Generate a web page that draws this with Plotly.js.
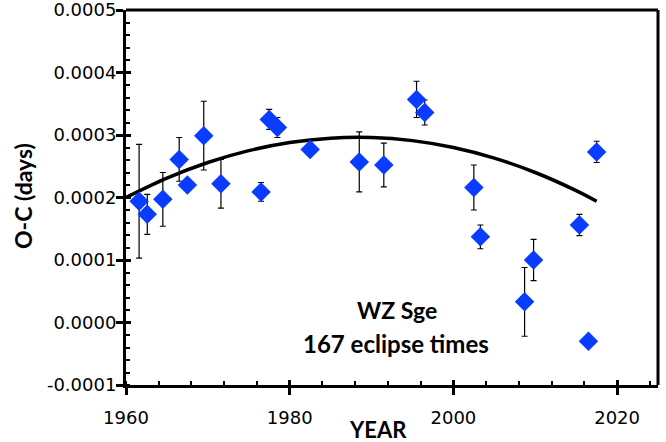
<!DOCTYPE html>
<html>
<head>
<meta charset="utf-8">
<script src="https://cdn.plot.ly/plotly-3.0.1.min.js"></script>
<style>html,body{margin:0;padding:0;background:#fff}#chart{width:666px;height:442px}</style>
</head>
<body>
<div id="chart"></div>
<script>
// Observed O-C data
var years = [1961.6, 1962.6, 1964.5, 1966.5, 1967.5, 1969.5, 1971.6, 1976.5, 1977.5, 1978.5, 1982.5, 1988.5, 1991.5, 1995.5, 1996.5, 2002.5, 2003.3, 2008.7, 2009.8, 2015.4, 2016.5, 2017.5];
var oc = [0.000194, 0.000173, 0.000197, 0.000261, 0.000220, 0.000299, 0.000222, 0.000209, 0.000325, 0.000312, 0.000277, 0.000257, 0.000252, 0.000357, 0.000336, 0.000216, 0.000137, 0.000033, 0.000100, 0.000156, -0.000030, 0.000273];
var ocErr = [0.000091, 0.000032, 0.000043, 0.000035, 0.000000, 0.000055, 0.000039, 0.000015, 0.000016, 0.000016, 0.000000, 0.000048, 0.000035, 0.000029, 0.000020, 0.000036, 0.000019, 0.000055, 0.000033, 0.000017, 0.000002, 0.000017];
// Fitted curve
var fitYears = [1960, 1965, 1970, 1975, 1980, 1985, 1990, 1995, 2000, 2005, 2010, 2015, 2017.5];
var fitOC = [0.000200, 0.000231, 0.000256, 0.000275, 0.000288, 0.000295, 0.000296, 0.000291, 0.000280, 0.000263, 0.000240, 0.000211, 0.000194];
// Tick labels
var yTickVals = [-0.0001, 0, 0.0001, 0.0002, 0.0003, 0.0004, 0.0005];
var yTickText = ["-0.0001", "0.0000", "0.0001", "0.0002", "0.0003", "0.0004", "0.0005"];
var xTickVals = [1960, 1980, 2000, 2020];
var xTickText = ["1960", "1980", "2000", "2020"];

var FONT = "Lato, 'Open Sans', sans-serif";
var TFONT = "'DejaVu Sans', sans-serif";
var YR = [-0.0001000001, 0.0005000001];
var traces = [
  {x: fitYears, y: fitOC, type: 'scatter', mode: 'lines',
   line: {color: '#000', width: 3.5, shape: 'spline'}, hoverinfo: 'skip'},
  {x: years, y: oc, type: 'scatter', mode: 'markers',
   marker: {symbol: 'diamond', size: 15, color: '#0a3cff'},
   error_y: {type: 'data', array: ocErr, visible: true, color: '#000', thickness: 1.2, width: 3}},
  {x: [null], y: [null], xaxis: 'x2', yaxis: 'y2', type: 'scatter', mode: 'markers', showlegend: false}
];
var layout = {
  width: 666, height: 442,
  margin: {l: 126, r: 8, t: 10, b: 57},
  paper_bgcolor: '#fff', plot_bgcolor: '#fff',
  showlegend: false,
  font: {family: FONT, color: '#000', size: 18},
  xaxis: {range: [1960, 2025], tickvals: xTickVals, ticktext: xTickText,
    ticks: 'outside', ticklen: 7, tickwidth: 3, tickcolor: '#000',
    showline: true, linewidth: 3, linecolor: '#000', mirror: false,
    showgrid: false, zeroline: false, ticklabelstandoff: 7, ticklabeloverflow: 'allow',
    tickfont: {family: TFONT, size: 18},
    minor: {tick0: 1960, dtick: 4, ticks: 'inside', ticklen: 4, tickwidth: 2, tickcolor: '#000', showgrid: false}},
  yaxis: {range: YR, tickvals: yTickVals, ticktext: yTickText,
    ticks: 'outside', ticklen: 7, tickwidth: 3, tickcolor: '#000',
    showline: true, linewidth: 3, linecolor: '#000', mirror: false,
    showgrid: false, zeroline: false, ticklabelstandoff: -4, ticklabeloverflow: 'allow',
    tickfont: {family: TFONT, size: 18},
    minor: {tick0: 0, dtick: 0.00002, ticks: 'inside', ticklen: 4, tickwidth: 2, tickcolor: '#000', showgrid: false}},
  xaxis2: {range: [1960, 2025], overlaying: 'x', anchor: 'y2', side: 'bottom',
    tickvals: xTickVals, ticks: 'inside', ticklen: 5, tickwidth: 3, tickcolor: '#000',
    showticklabels: false, showline: false, showgrid: false, zeroline: false},
  yaxis2: {range: YR, overlaying: 'y', anchor: 'x2', side: 'left',
    tickvals: yTickVals, ticks: 'inside', ticklen: 5, tickwidth: 3, tickcolor: '#000',
    showticklabels: false, showline: false, showgrid: false, zeroline: false},
  shapes: [
    {type: 'line', xref: 'paper', yref: 'paper', x0: 0, x1: 1, y0: 1, y1: 1, line: {color: '#000', width: 3}},
    {type: 'line', xref: 'paper', yref: 'paper', x0: 1, x1: 1, y0: 0, y1: 1, line: {color: '#000', width: 3}}
  ],
  annotations: [
    {text: '<b>O-C (days)</b>', xref: 'paper', yref: 'paper', x: (23-126)/532, y: (385-196)/375,
     xanchor: 'center', yanchor: 'middle', textangle: -90, showarrow: false,
     font: {family: FONT, size: 23}},
    {text: '<b>YEAR</b>', xref: 'paper', yref: 'paper', x: (378-126)/532, y: -(429-385)/375,
     xanchor: 'center', yanchor: 'middle', showarrow: false,
     font: {family: FONT, size: 22}},
    {text: '<b>WZ Sge</b>', xref: 'paper', yref: 'paper', x: (397-126)/532, y: (385-310)/375,
     xanchor: 'center', yanchor: 'middle', showarrow: false,
     font: {family: FONT, size: 23}},
    {text: '<b>167 eclipse times</b>', xref: 'paper', yref: 'paper', x: (396-126)/532, y: (385-343)/375,
     xanchor: 'center', yanchor: 'middle', showarrow: false,
     font: {family: FONT, size: 24}}
  ]
};
Plotly.newPlot('chart', traces, layout, {displayModeBar: false, staticPlot: true});
</script>
</body>
</html>
